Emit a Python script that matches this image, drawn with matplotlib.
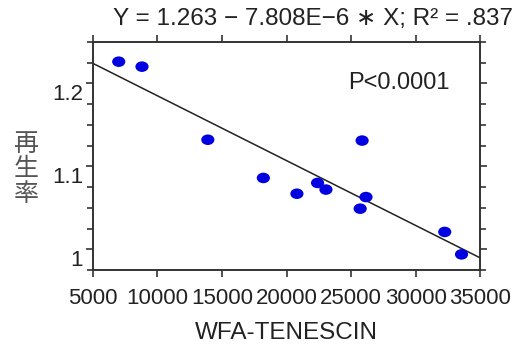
import matplotlib
matplotlib.use("Agg")
import matplotlib.pyplot as plt
import matplotlib.transforms as mtransforms
from matplotlib.path import Path
from matplotlib.ticker import MultipleLocator
import numpy as np

plt.rcParams['font.family'] = ['Liberation Sans', 'Noto Sans CJK JP', 'DejaVu Sans']

# data
wfa = [7000, 8800, 13900, 18200, 20800, 22400, 23050, 25850, 25700, 26150, 32250, 33550]
rate = [1.226, 1.220, 1.132, 1.086, 1.067, 1.080, 1.072, 1.131, 1.049, 1.063, 1.021, 0.994]

intercept = 1.263
slope = -7.808e-6
r2 = ".837"

xticks = [5000, 10000, 15000, 20000, 25000, 30000, 35000]
yticks = [1.0, 1.1, 1.2]
ytick_labels = ["1", "1.1", "1.2"]

fig = plt.figure(figsize=(5.22, 3.45), dpi=100)
ax = fig.add_axes([0.178, 0.217, 0.742, 0.662])

# regression line over the whole x range
xl = np.array([5000, 35000])
ax.plot(xl, intercept + slope * xl, color='#222222', lw=1.1, zorder=2)

# slightly flattened dots like the original
ell = Path.unit_circle().transformed(mtransforms.Affine2D().scale(1.25, 1.0))
ax.scatter(wfa, rate, marker=ell, s=90, color='#0000e0', edgecolors='none', zorder=3)

ax.set_xlim(5000, 35000)
ax.set_ylim(0.975, 1.25)
ax.set_xticks(xticks)
ax.set_yticks(yticks)
ax.set_yticklabels(ytick_labels)
ax.yaxis.set_minor_locator(MultipleLocator(0.025))

for s in ax.spines.values():
    s.set_linewidth(1.4)
    s.set_color('#333333')

ax.tick_params(axis='both', which='both', direction='out', color='#333333', width=1.2,
               top=True, right=True, labeltop=False, labelright=False)
ax.tick_params(axis='both', which='major', length=5)
ax.tick_params(axis='both', which='minor', length=4)
ax.tick_params(axis='x', labelsize=16, pad=8, labelcolor='#222222')
ax.tick_params(axis='y', labelsize=16, pad=2, labelcolor='#222222')

# y labels sit a bit below their ticks in the original
off = mtransforms.ScaledTranslation(0, -9 / 100, fig.dpi_scale_trans)
for lab in ax.get_yticklabels():
    lab.set_transform(lab.get_transform() + off)

fig.text(0.982, 0.945, "Y = 1.263 \u2212 7.808E\u22126 \u2217 X; R\u00b2 = " + r2,
         ha='right', va='center', fontsize=17.5, color='#222222')
ax.text(0.92, 0.82, "P<0.0001", transform=ax.transAxes, ha='right', va='center',
        fontsize=17, color='#222222')

ax.set_xlabel("WFA-TENESCIN", fontsize=17.5, color='#222222', labelpad=9)
fig.text(0.05, 0.51, "再\n生\n率", ha='center', va='center', fontsize=18,
         color='#555555', linespacing=0.95, family=['Noto Sans CJK JP', 'DejaVu Sans'])

fig.savefig("out.png", dpi=100)
